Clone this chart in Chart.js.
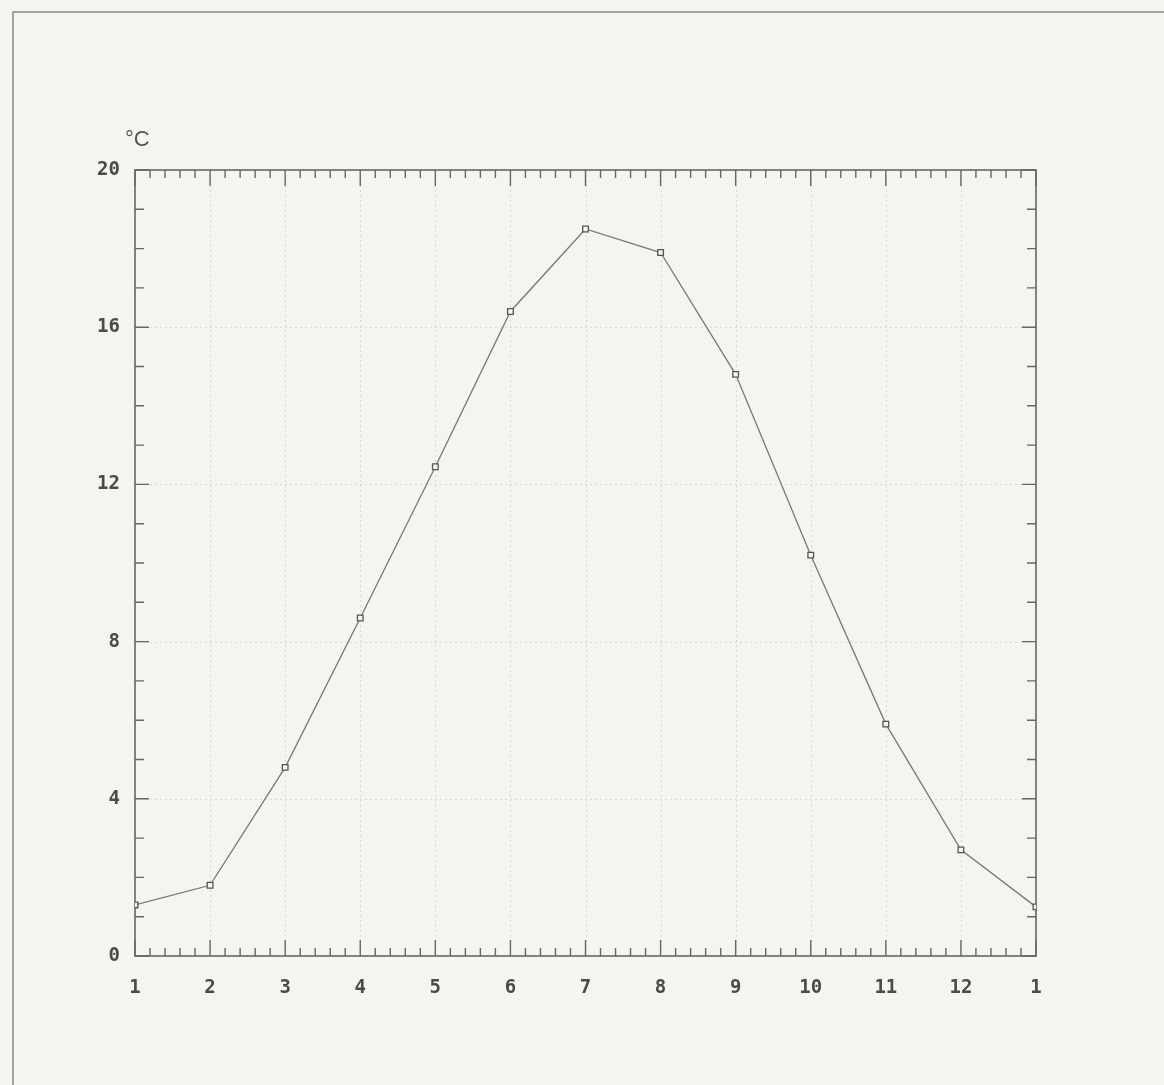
<!DOCTYPE html>
<html>
<head>
<meta charset="utf-8">
<script src="https://cdn.jsdelivr.net/npm/chart.js@4.4.1/dist/chart.umd.min.js"></script>
<style>
  html, body { margin: 0; padding: 0; background: #f5f4f0; }
  #wrap { position: relative; width: 1164px; height: 1085px; }
</style>
</head>
<body>
<div id="wrap"><canvas id="chart" width="1164" height="1085"></canvas></div>
<script>
// month labels (the year wraps back to 1)
const months = ['1', '2', '3', '4', '5', '6', '7', '8', '9', '10', '11', '12', '1'];
// mean monthly temperature, °C
const temps = [1.3, 1.8, 4.8, 8.6, 12.45, 16.4, 18.5, 17.9, 14.8, 10.2, 5.9, 2.7, 1.25];
const yTicks = [0, 4, 8, 12, 16, 20];

const ink = '#666';
const labelFont = { family: 'DejaVu Sans Mono', size: 19, weight: 'bold' };

const plotterFrame = {
  id: 'plotterFrame',
  beforeDraw(chart) {
    const ctx = chart.ctx;
    ctx.save();
    ctx.fillStyle = '#f5f4f0';
    ctx.fillRect(0, 0, chart.width, chart.height);
    // page edge of the scan
    ctx.strokeStyle = '#888';
    ctx.lineWidth = 1.5;
    ctx.beginPath();
    ctx.moveTo(13, chart.height);
    ctx.lineTo(13, 12);
    ctx.lineTo(chart.width, 12);
    ctx.stroke();
    ctx.restore();
  },
  beforeDatasetsDraw(chart) {
    const { ctx, chartArea: a, scales: { x, y } } = chart;
    ctx.save();
    // dotted grid
    ctx.strokeStyle = '#d8d8d4';
    ctx.lineWidth = 1;
    ctx.setLineDash([2, 3]);
    ctx.beginPath();
    for (let i = 1; i < months.length - 1; i++) {
      const px = Math.round(x.getPixelForValue(i)) + 0.5;
      ctx.moveTo(px, a.top); ctx.lineTo(px, a.bottom);
    }
    yTicks.slice(1, -1).forEach(v => {
      const py = Math.round(y.getPixelForValue(v)) + 0.5;
      ctx.moveTo(a.left, py); ctx.lineTo(a.right, py);
    });
    ctx.stroke();
    ctx.setLineDash([]);

    // frame
    ctx.strokeStyle = ink;
    ctx.lineWidth = 1.6;
    ctx.strokeRect(a.left, a.top, a.right - a.left, a.bottom - a.top);

    // tick marks
    ctx.lineWidth = 1.4;
    ctx.beginPath();
    for (let v = 0; v <= months.length - 1 + 1e-6; v += 0.2) {
      const major = Math.abs(v - Math.round(v)) < 1e-6;
      const len = major ? 16 : 8;
      const px = x.getPixelForValue(v);
      ctx.moveTo(px, a.bottom); ctx.lineTo(px, a.bottom - len);
      ctx.moveTo(px, a.top); ctx.lineTo(px, a.top + len);
    }
    for (let v = 0; v <= 20; v++) {
      const len = v % 4 === 0 ? 14 : 9;
      const py = y.getPixelForValue(v);
      ctx.moveTo(a.left, py); ctx.lineTo(a.left + len, py);
      ctx.moveTo(a.right, py); ctx.lineTo(a.right - len, py);
    }
    ctx.stroke();

    // unit
    ctx.fillStyle = '#555';
    ctx.font = '22px "Liberation Sans"';
    ctx.textBaseline = 'alphabetic';
    ctx.fillText('°C', a.left - 10, a.top - 24);
    ctx.restore();
  }
};

new Chart(document.getElementById('chart'), {
  type: 'line',
  data: {
    datasets: [{
      data: temps.map((t, i) => ({ x: i, y: t })),
      borderColor: '#777',
      borderWidth: 1.3,
      tension: 0,
      pointStyle: 'rect',
      pointRadius: 4,
      pointBorderWidth: 1.3,
      pointBorderColor: '#555',
      pointBackgroundColor: '#f5f4f0'
    }]
  },
  options: {
    responsive: false,
    animation: false,
    layout: { padding: { left: 0, top: 170, right: 128, bottom: 0 } },
    plugins: { legend: { display: false }, tooltip: { enabled: false } },
    scales: {
      x: {
        type: 'linear',
        min: 0,
        max: months.length - 1,
        grid: { display: false, drawTicks: false },
        border: { display: false },
        ticks: {
          stepSize: 1,
          padding: 21,
          color: '#4a4a4a',
          font: labelFont,
          callback: v => months[v]
        },
        afterFit: s => { s.height = 129; }
      },
      y: {
        min: 0,
        max: 20,
        grid: { display: false, drawTicks: false },
        border: { display: false },
        ticks: {
          stepSize: 4,
          padding: 15,
          color: '#4a4a4a',
          font: labelFont
        },
        afterFit: s => { s.width = 135; }
      }
    }
  },
  plugins: [plotterFrame]
});
</script>
</body>
</html>
